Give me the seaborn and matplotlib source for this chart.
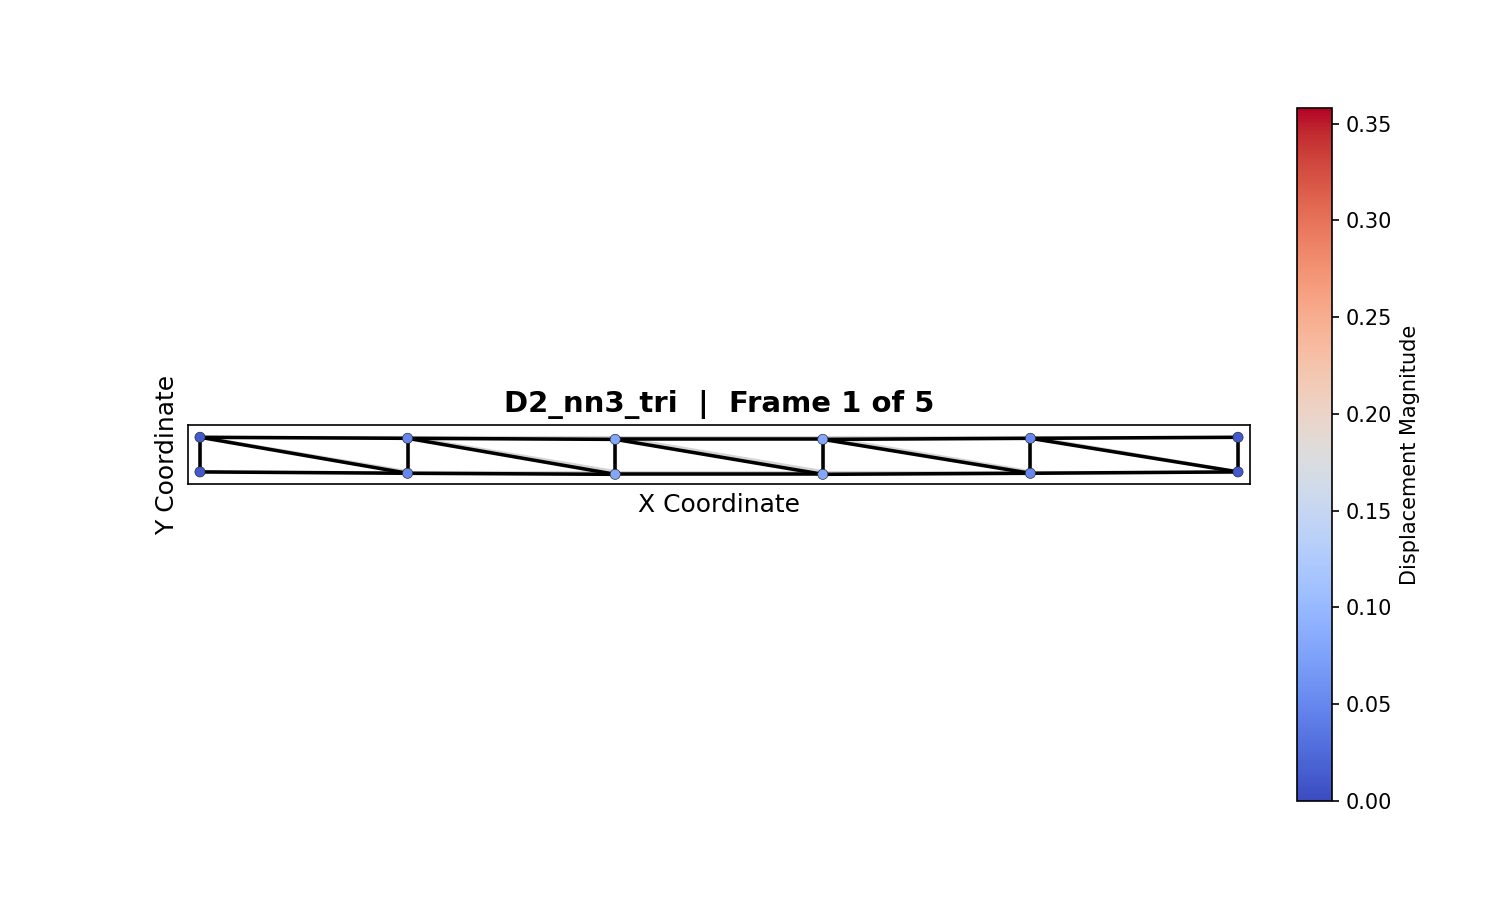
import numpy as np
import pandas as pd
import matplotlib
matplotlib.use("Agg")
import matplotlib.pyplot as plt
import seaborn as sns

# Undeformed node positions
x_nodes = [0, 6, 12, 18, 24, 30]
y_bottom = [0, 0, 0, 0, 0, 0]
y_top = [1, 1, 1, 1, 1, 1]
# Vertical displacement
disp_bottom = [-0.01, -0.05, -0.08, -0.08, -0.05, -0.01]
disp_top = [-0.01, -0.04, -0.07, -0.07, -0.04, -0.01]
# Displacement magnitude at each node (drives colour)
mag_bottom = [0.012, 0.05, 0.08, 0.08, 0.05, 0.012]
mag_top = [0.012, 0.05, 0.08, 0.08, 0.05, 0.012]
vmax = 0.3581
title = "D2_nn3_tri  |  Frame 1 of 5"
xlabel = "X Coordinate"
ylabel = "Y Coordinate"
cbar_label = "Displacement Magnitude"

sns.set_style("white")
plt.rcParams["font.family"] = ["DejaVu Sans"]
plt.rcParams["text.color"] = "black"
plt.rcParams["axes.labelcolor"] = "black"
plt.rcParams["xtick.color"] = "black"
plt.rcParams["ytick.color"] = "black"

n = len(x_nodes)
X = np.array(x_nodes + x_nodes, dtype=float)
Y0 = np.array(y_bottom + y_top, dtype=float)
Y = Y0 + np.array(disp_bottom + disp_top)
M = np.array(mag_bottom + mag_top)

edges = []
for i in range(n - 1):
    edges += [(i, i + 1), (n + i, n + i + 1), (n + i, i + 1)]
for i in range(n):
    edges.append((i, n + i))

fig = plt.figure(figsize=(10, 6), dpi=150)
ax = fig.add_axes([188 / 1500, 1 - 484 / 900, (1250 - 188) / 1500, 59 / 900])

for a, b in edges:
    ax.plot([X[a], X[b]], [Y0[a], Y0[b]], color="lightgray", lw=1.5, zorder=1)
for a, b in edges:
    ax.plot([X[a], X[b]], [Y[a], Y[b]], color="black", lw=1.7, zorder=2)

df = pd.DataFrame({"x": X, "y": Y, "mag": M})
norm = plt.Normalize(0, vmax)
sns.scatterplot(data=df, x="x", y="y", hue="mag", palette="coolwarm", hue_norm=norm,
                s=24, edgecolor="#222222", linewidth=0.3, legend=False, ax=ax, zorder=3)

ax.set_xlim(-0.347, 30.347)
ax.set_ylim(-0.36, 1.345)
ax.set_xticks([])
ax.set_yticks([])
ax.set_xlabel(xlabel, fontsize=12, labelpad=4.5)
ax.set_ylabel(ylabel, fontsize=12, labelpad=4.5)
ax.set_title(title, fontsize=14, fontweight="bold", pad=6.3, color="black")
for s in ax.spines.values():
    s.set_visible(True)
    s.set_color("black")
    s.set_linewidth(0.8)

cax = fig.add_axes([1297 / 1500, 1 - 801 / 900, 35 / 1500, 693 / 900])
sm = plt.cm.ScalarMappable(norm=norm, cmap="coolwarm")
cb = fig.colorbar(sm, cax=cax)
cb.set_ticks(np.arange(0, 0.351, 0.05))
cb.ax.tick_params(left=False, right=True, length=3.5, width=0.8, pad=3, labelsize=10, color="black")
cb.set_label(cbar_label, fontsize=10, labelpad=4)
cb.outline.set_edgecolor("black")
cb.outline.set_linewidth(0.8)

fig.savefig("out.png", dpi=150)
